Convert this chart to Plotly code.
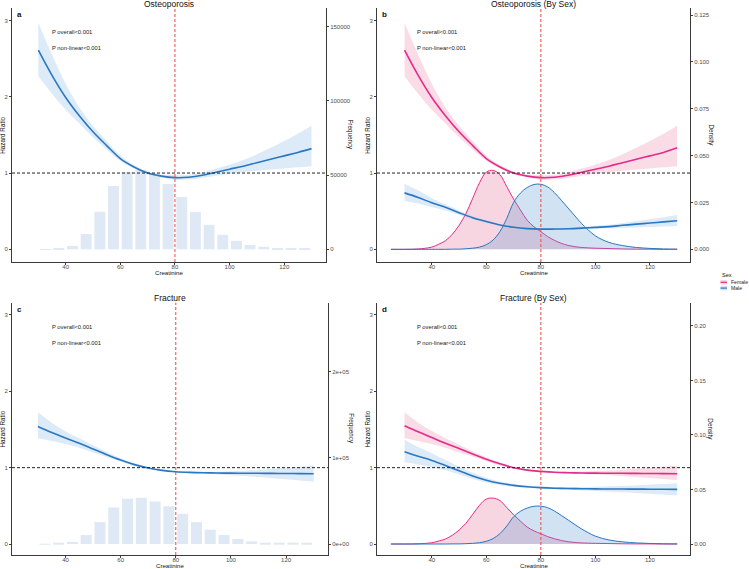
import plotly.graph_objects as go

W, H = 749, 569

# ---------------- data ----------------
hr_x = [30, 35, 40, 45, 50, 55, 60, 65, 70, 75, 80, 85, 90, 95, 100, 105, 110, 115, 120, 125, 130]

# a: Osteoporosis overall
a_hr = [2.61, 2.28, 1.99, 1.75, 1.54, 1.36, 1.19, 1.08, 1.00, 0.96, 0.94, 0.945, 0.97, 1.01, 1.05, 1.09, 1.135, 1.18, 1.225, 1.27, 1.32]
a_lo = [2.27, 2.04, 1.83, 1.65, 1.47, 1.31, 1.16, 1.06, 0.985, 0.945, 0.91, 0.915, 0.935, 0.965, 0.99, 1.01, 1.03, 1.045, 1.06, 1.075, 1.09]
a_hi = [2.97, 2.55, 2.17, 1.86, 1.62, 1.42, 1.23, 1.105, 1.02, 0.98, 0.97, 0.975, 1.01, 1.06, 1.11, 1.17, 1.245, 1.33, 1.42, 1.515, 1.62]

# b: Osteoporosis by sex
b_f_hr = [2.61, 2.28, 1.99, 1.75, 1.54, 1.36, 1.19, 1.08, 1.00, 0.96, 0.94, 0.945, 0.97, 1.01, 1.05, 1.09, 1.135, 1.18, 1.225, 1.27, 1.33]
b_f_lo = [2.27, 2.04, 1.83, 1.65, 1.47, 1.31, 1.16, 1.06, 0.985, 0.945, 0.91, 0.915, 0.935, 0.965, 0.99, 1.01, 1.03, 1.045, 1.06, 1.075, 1.09]
b_f_hi = [2.97, 2.55, 2.17, 1.86, 1.62, 1.42, 1.23, 1.105, 1.02, 0.98, 0.97, 0.975, 1.01, 1.06, 1.11, 1.17, 1.245, 1.33, 1.42, 1.515, 1.62]
b_m_hr = [0.74, 0.68, 0.61, 0.55, 0.48, 0.415, 0.365, 0.32, 0.29, 0.272, 0.265, 0.266, 0.27, 0.278, 0.288, 0.298, 0.315, 0.33, 0.345, 0.36, 0.375]
b_m_lo = [0.635, 0.60, 0.555, 0.51, 0.45, 0.395, 0.35, 0.31, 0.283, 0.266, 0.259, 0.259, 0.262, 0.266, 0.27, 0.275, 0.28, 0.287, 0.293, 0.299, 0.305]
b_m_hi = [0.86, 0.77, 0.67, 0.59, 0.51, 0.435, 0.38, 0.33, 0.297, 0.278, 0.271, 0.273, 0.28, 0.292, 0.308, 0.323, 0.345, 0.37, 0.395, 0.42, 0.45]

# c: Fracture overall
c_hr = [1.54, 1.46, 1.39, 1.32, 1.245, 1.17, 1.10, 1.04, 0.995, 0.965, 0.947, 0.938, 0.933, 0.93, 0.928, 0.927, 0.926, 0.925, 0.924, 0.922, 0.921]
c_lo = [1.385, 1.35, 1.31, 1.26, 1.20, 1.14, 1.08, 1.025, 0.985, 0.957, 0.94, 0.929, 0.92, 0.912, 0.902, 0.89, 0.877, 0.862, 0.848, 0.832, 0.816]
c_hi = [1.725, 1.59, 1.475, 1.385, 1.295, 1.205, 1.125, 1.057, 1.006, 0.974, 0.954, 0.947, 0.946, 0.948, 0.953, 0.96, 0.97, 0.983, 0.997, 1.013, 1.03]

# d: Fracture by sex
d_f_hr = [1.55, 1.47, 1.395, 1.32, 1.25, 1.18, 1.11, 1.05, 1.0, 0.968, 0.952, 0.94, 0.934, 0.93, 0.928, 0.927, 0.926, 0.925, 0.924, 0.922, 0.921]
d_f_lo = [1.385, 1.35, 1.31, 1.26, 1.20, 1.145, 1.085, 1.03, 0.988, 0.96, 0.944, 0.932, 0.925, 0.918, 0.91, 0.9, 0.89, 0.878, 0.866, 0.852, 0.838]
d_f_hi = [1.725, 1.59, 1.48, 1.385, 1.30, 1.215, 1.135, 1.068, 1.012, 0.976, 0.96, 0.95, 0.948, 0.95, 0.955, 0.962, 0.972, 0.985, 0.998, 1.013, 1.03]
d_m_hr = [1.21, 1.15, 1.095, 1.03, 0.96, 0.89, 0.835, 0.795, 0.768, 0.75, 0.738, 0.731, 0.727, 0.724, 0.722, 0.721, 0.72, 0.719, 0.718, 0.717, 0.716]
d_m_lo = [1.07, 1.04, 1.005, 0.965, 0.91, 0.85, 0.805, 0.772, 0.75, 0.736, 0.726, 0.718, 0.71, 0.702, 0.694, 0.685, 0.677, 0.668, 0.658, 0.648, 0.638]
d_m_hi = [1.365, 1.27, 1.19, 1.10, 1.015, 0.935, 0.868, 0.82, 0.787, 0.765, 0.75, 0.745, 0.745, 0.747, 0.75, 0.755, 0.76, 0.768, 0.776, 0.785, 0.795]

# histograms (frequency)
hist_x = [32.5, 37.5, 42.5, 47.5, 52.5, 57.5, 62.5, 67.5, 72.5, 77.5, 82.5, 87.5, 92.5, 97.5, 102.5, 107.5, 112.5, 117.5, 122.5, 127.5]
a_freq = [200, 800, 2300, 10300, 25300, 42600, 52000, 53400, 51100, 43900, 35200, 25100, 16500, 9800, 5700, 3000, 1700, 900, 500, 300]
c_freq = [300, 600, 2500, 10400, 25400, 42400, 52400, 53600, 49300, 43900, 35100, 25400, 16600, 10400, 5800, 3100, 1500, 1100, 700, 400]

# densities by sex
dens_x = [25, 30, 35, 40, 42.5, 45, 47.5, 50, 52.5, 55, 57.5, 60, 62.5, 65, 67.5, 70, 72.5, 75, 77.5, 80,
          82.5, 85, 87.5, 90, 92.5, 95, 100, 105, 110, 115, 120, 125, 130]
dens_female = [0.0, 0.0, 0.0002, 0.0012, 0.0027, 0.0046, 0.0080, 0.0128, 0.0190, 0.0272, 0.0355, 0.0412, 0.0421, 0.0398,
               0.0334, 0.0268, 0.0210, 0.0155, 0.0120, 0.0094, 0.0068, 0.0048, 0.0032, 0.0021, 0.0014, 0.0010,
               0.0006, 0.0004, 0.0002, 0.0001, 0.0001, 0.0, 0.0]
dens_male = [0.0, 0.0, 0.0, 0.0, 0.0, 0.0, 0.0001, 0.0001, 0.0003, 0.0006, 0.0012, 0.0025, 0.0050, 0.0095,
             0.0165, 0.0250, 0.0300, 0.0330, 0.0346, 0.0347, 0.0333, 0.0302, 0.0262, 0.0220, 0.0178, 0.0137,
             0.0072, 0.0037, 0.0020, 0.0010, 0.0005, 0.0002, 0.0001]

x_ticks = [40, 60, 80, 100, 120]
hr_ticks = [0, 1, 2, 3]
a_sec_ticks = [0, 50000, 100000, 150000]
a_sec_labels = ["0", "50000", "100000", "150000"]
b_sec_ticks = [0, 0.025, 0.05, 0.075, 0.1, 0.125]
b_sec_labels = ["0.000", "0.025", "0.050", "0.075", "0.100", "0.125"]
c_sec_ticks = [0, 100000, 200000]
c_sec_labels = ["0e+00", "1e+05", "2e+05"]
d_sec_ticks = [0, 0.05, 0.1, 0.15, 0.2]
d_sec_labels = ["0.00", "0.05", "0.10", "0.15", "0.20"]

titles = ["Osteoporosis", "Osteoporosis (By Sex)", "Fracture", "Fracture (By Sex)"]
letters = ["a", "b", "c", "d"]
sec_titles = ["Frequency", "Density", "Frequency", "Density"]
p_texts = ["P overall<0.001", "P non-linear<0.001"]
sexes = ["Female", "Male"]

# ---------------- styles ----------------
FONT = "Liberation Sans, Arial, sans-serif"
BLUE = "#2878C3"
PINK = "#E62A8C"
BLUE_FILL = "rgba(90,150,210,0.28)"
PINK_FILL = "rgba(230,120,155,0.30)"
BAND_BLUE = "rgba(150,190,230,0.32)"
BAND_PINK = "rgba(235,140,170,0.30)"
BAR = "#DFE9F5"
AX = "#3a3a3a"
TICK_FONT = dict(family=FONT, size=6, color="#4D4D4D")

def fx(px):
    return px / W

def fy(py):
    return 1 - py / H

panels = [
    dict(xd=(12, 326), yd=(8, 262), xr=(20.35, 135.3), hr=(-0.166, 3.163), k=51340,
         sec=(a_sec_ticks, a_sec_labels)),
    dict(xd=(377, 690), yd=(8, 262), xr=(19.9, 134.7), hr=(-0.166, 3.163), k=0.0407,
         sec=(b_sec_ticks, b_sec_labels)),
    dict(xd=(12, 328), yd=(302.7, 555), xr=(20.6, 135.2), hr=(-0.144, 3.161), k=88600,
         sec=(c_sec_ticks, c_sec_labels)),
    dict(xd=(377, 690), yd=(302.7, 555), xr=(19.9, 134.7), hr=(-0.144, 3.161), k=0.0700,
         sec=(d_sec_ticks, d_sec_labels)),
]

fig = go.Figure()
layout = dict(width=W, height=H, margin=dict(l=0, r=0, t=0, b=0),
              paper_bgcolor="white", plot_bgcolor="white", showlegend=False,
              font=dict(family=FONT))
shapes = []
annotations = []

for i, p in enumerate(panels):
    n = i + 1
    xname = "x" if n == 1 else f"x{n}"
    base_n = 2 * i + 1
    over_n = 2 * i + 2
    base = "y" if base_n == 1 else f"y{base_n}"
    over = f"y{over_n}"
    xkey = "xaxis" if n == 1 else f"xaxis{n}"
    bkey = "yaxis" if base_n == 1 else f"yaxis{base_n}"
    okey = f"yaxis{over_n}"

    layout[xkey] = dict(domain=[fx(p["xd"][0]), fx(p["xd"][1])], range=list(p["xr"]), anchor=base,
                        tickvals=x_ticks, ticks="outside", ticklen=2, tickcolor=AX, tickwidth=1,
                        showline=True, linecolor=AX, linewidth=1, showgrid=False, zeroline=False,
                        tickfont=TICK_FONT, ticklabelstandoff=-3, fixedrange=True)
    layout[bkey] = dict(domain=[fy(p["yd"][1]), fy(p["yd"][0])],
                        range=[p["hr"][0] * p["k"], p["hr"][1] * p["k"]], anchor=xname, side="right",
                        tickvals=p["sec"][0], ticktext=p["sec"][1], ticks="outside", ticklen=2,
                        tickcolor=AX, tickwidth=1, showline=True, linecolor=AX, linewidth=1,
                        showgrid=False, zeroline=False, tickfont=TICK_FONT)
    layout[okey] = dict(overlaying=base, anchor=xname, side="left", range=list(p["hr"]),
                        tickvals=hr_ticks, ticks="outside", ticklen=2, tickcolor=AX, tickwidth=1,
                        showline=True, linecolor=AX, linewidth=1, showgrid=False, zeroline=False,
                        tickfont=TICK_FONT)

    # reference lines
    shapes.append(dict(type="line", xref=f"{xname} domain", x0=0, x1=1, yref=over, y0=1, y1=1,
                       line=dict(color="#222", width=1, dash="3px,2px")))
    shapes.append(dict(type="line", xref=xname, x0=80, x1=80, yref=f"{base} domain", y0=0, y1=1,
                       line=dict(color="#F04848", width=1, dash="3px,2px")))

    cx = (p["xd"][0] + p["xd"][1]) / 2
    annotations += [
        dict(text=titles[i], x=fx(cx), y=fy(p["yd"][0] - 4.5), xref="paper", yref="paper",
             showarrow=False, font=dict(size=8.5, color="#111"), xanchor="center", yanchor="middle"),
        dict(text=f"<b>{letters[i]}</b>", x=fx(p["xd"][0] + 3), y=fy(p["yd"][0] + 6.5), xref="paper",
             yref="paper", showarrow=False, font=dict(size=8, color="#111"), xanchor="left", yanchor="middle"),
        dict(text=p_texts[0], x=fx(p["xd"][0] + 37.5), y=fy(p["yd"][0] + 24), xref="paper", yref="paper",
             showarrow=False, font=dict(size=5.8, color="#222"), xanchor="left", yanchor="middle"),
        dict(text=p_texts[1], x=fx(p["xd"][0] + 37.5), y=fy(p["yd"][0] + 40.3), xref="paper", yref="paper",
             showarrow=False, font=dict(size=5.8, color="#222"), xanchor="left", yanchor="middle"),
        dict(text="Creatinine", x=fx(cx), y=fy(p["yd"][1] + 10.6), xref="paper", yref="paper",
             showarrow=False, font=dict(size=6.1, color="#111"), xanchor="center", yanchor="middle"),
        dict(text="Hazard Ratio", x=fx(p["xd"][0] - 9.3), y=fy((p["yd"][0] + p["yd"][1]) / 2), xref="paper",
             yref="paper", showarrow=False, textangle=-90, font=dict(size=6.3, color="#111"),
             xanchor="center", yanchor="middle"),
        dict(text=sec_titles[i], x=fx(p["xd"][1] + (23.5 if i % 2 == 0 else 20.5)),
             y=fy((p["yd"][0] + p["yd"][1]) / 2), xref="paper", yref="paper", showarrow=False,
             textangle=90, font=dict(size=6.3, color="#111"), xanchor="center", yanchor="middle"),
    ]

def ribbon(x, lo, hi, color, xa, ya):
    fig.add_trace(go.Scatter(x=x, y=lo, mode="lines", line=dict(width=0, shape="spline"),
                             xaxis=xa, yaxis=ya, hoverinfo="skip"))
    fig.add_trace(go.Scatter(x=x, y=hi, mode="lines", line=dict(width=0, shape="spline"),
                             fill="tonexty", fillcolor=color, xaxis=xa, yaxis=ya, hoverinfo="skip"))

def hrline(x, y, color, xa, ya):
    fig.add_trace(go.Scatter(x=x, y=y, mode="lines", line=dict(width=1.6, color=color, shape="spline"),
                             xaxis=xa, yaxis=ya))

def density(x, y, color, fillc, xa, ya):
    fig.add_trace(go.Scatter(x=x, y=y, mode="lines", line=dict(width=1, color=color, shape="spline"),
                             fill="tozeroy", fillcolor=fillc, xaxis=xa, yaxis=ya))

# panel a
fig.add_trace(go.Bar(x=hist_x, y=a_freq, width=4, marker=dict(color=BAR, line=dict(width=0)),
                     xaxis="x", yaxis="y"))
ribbon(hr_x, a_lo, a_hi, BAND_BLUE, "x", "y2")
hrline(hr_x, a_hr, BLUE, "x", "y2")

# panel b
density(dens_x, dens_female, PINK, PINK_FILL, "x2", "y3")
density(dens_x, dens_male, BLUE, BLUE_FILL, "x2", "y3")
ribbon(hr_x, b_f_lo, b_f_hi, BAND_PINK, "x2", "y4")
ribbon(hr_x, b_m_lo, b_m_hi, BAND_BLUE, "x2", "y4")
hrline(hr_x, b_f_hr, PINK, "x2", "y4")
hrline(hr_x, b_m_hr, BLUE, "x2", "y4")

# panel c
fig.add_trace(go.Bar(x=hist_x, y=c_freq, width=4, marker=dict(color=BAR, line=dict(width=0)),
                     xaxis="x3", yaxis="y5"))
ribbon(hr_x, c_lo, c_hi, BAND_BLUE, "x3", "y6")
hrline(hr_x, c_hr, BLUE, "x3", "y6")

# panel d
density(dens_x, dens_female, PINK, PINK_FILL, "x4", "y7")
density(dens_x, dens_male, BLUE, BLUE_FILL, "x4", "y7")
ribbon(hr_x, d_f_lo, d_f_hi, BAND_PINK, "x4", "y8")
ribbon(hr_x, d_m_lo, d_m_hi, BAND_BLUE, "x4", "y8")
hrline(hr_x, d_f_hr, PINK, "x4", "y8")
hrline(hr_x, d_m_hr, BLUE, "x4", "y8")

# legend (manual)
annotations.append(dict(text="Sex", x=fx(720), y=fy(274.5), xref="paper", yref="paper", showarrow=False,
                        font=dict(size=5.6, color="#111"), xanchor="left", yanchor="middle"))
for j, (name, lc, fc) in enumerate(zip(sexes, [PINK, BLUE], [PINK_FILL, BLUE_FILL])):
    yc = 282.3 + j * 5.8
    shapes.append(dict(type="rect", xref="paper", yref="paper", x0=fx(720.5), x1=fx(727),
                       y0=fy(yc + 2.3), y1=fy(yc - 2.3), fillcolor=fc, line=dict(width=0)))
    shapes.append(dict(type="line", xref="paper", yref="paper", x0=fx(720.5), x1=fx(727),
                       y0=fy(yc), y1=fy(yc), line=dict(color=lc, width=1.2)))
    annotations.append(dict(text=name, x=fx(728.5), y=fy(yc), xref="paper", yref="paper", showarrow=False,
                            font=dict(size=5.1, color="#222"), xanchor="left", yanchor="middle"))

layout["shapes"] = shapes
layout["annotations"] = annotations
fig.update_layout(**layout)
fig.write_html("out.html")
